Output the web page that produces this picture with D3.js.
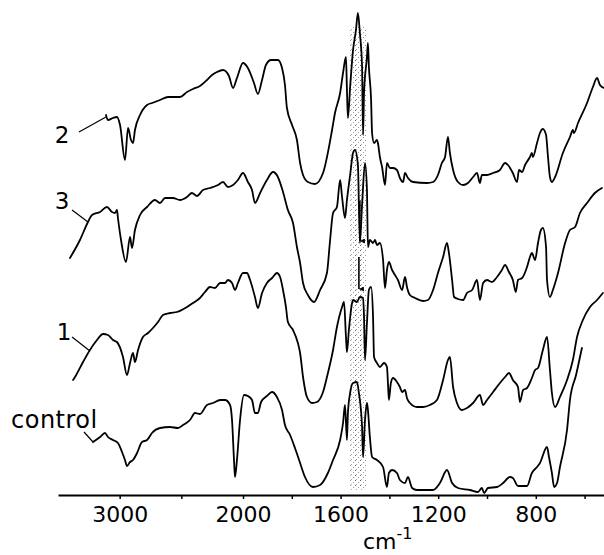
<!DOCTYPE html>
<html>
<head>
<meta charset="utf-8">
<script src="https://cdnjs.cloudflare.com/ajax/libs/d3/7.8.5/d3.min.js"></script>
<style>
  body { margin: 0; background: #fff; }
  svg { display: block; }
  .spec { fill: none; stroke: #000; stroke-width: 1.8; stroke-linejoin: round; stroke-linecap: round; }
  .lbl { font-family: "DejaVu Sans", sans-serif; fill: #000; }
</style>
</head>
<body>
<div id="chart"></div>
<script>
// IR spectra, wavenumber (cm-1) vs. transmittance (arbitrary, offset per trace)
var majorTicks = [3000, 2000, 1600, 1200, 800];
var minorTicks = [2500, 1800, 1400, 1000, 600];
var bandRange = [1560, 1497];

var trace2 = [[3111,190],[3095,187.5],[3054,188.5],[3022,189],[2997,185],[2957,167.5],[2932,183.5],[2908,177.5],[2892,176],[2876,182.5],[2835,190],[2778,195],[2738,196],[2673,197.5],[2608,199],[2511,199],[2454,201.5],[2405,203],[2349,204.5],[2292,207.5],[2251,210],[2211,211.5],[2162,212.5],[2114,209.5],[2081,203.5],[2049,208.5],[2000,216],[1980,213.5],[1955,206],[1939,200.5],[1922,207.5],[1906,215],[1885,217.5],[1857,217.5],[1840,213.5],[1828,205],[1820,193.5],[1799,185],[1779,177.5],[1766,166],[1754,160],[1734,156.5],[1705,155.5],[1672,161],[1635,182.5],[1623,191],[1602,201],[1590,211],[1578,219],[1574,202.5],[1570,188.5],[1561,204],[1549,222.5],[1537,232.5],[1529,241],[1521,231],[1512,214],[1508,180],[1504,201],[1492,219],[1488,226],[1484,214],[1475,197.5],[1471,181],[1463,176],[1451,177.5],[1447,176],[1439,169],[1430,164],[1418,155],[1410,166],[1398,163.5],[1385,163.5],[1369,162.5],[1357,158.5],[1344,156.5],[1336,161],[1324,158.5],[1303,156.5],[1246,156],[1221,156.5],[1201,160],[1185,166],[1172,169],[1160,179],[1152,171],[1139,162.5],[1119,156.5],[1098,155],[1078,156],[1057,159],[1041,161],[1029,156],[1021,160],[1000,160],[975,161],[947,162.5],[926,166],[914,165],[894,161],[877,156.5],[869,162.5],[856,161.5],[844,165],[824,169],[816,171],[812,169],[795,176],[783,181],[771,183],[758,180],[750,169],[742,159],[734,156.5],[721,159],[689,171],[660,179],[648,182.5],[644,181],[627,186],[590,196],[566,204],[549,208.5],[537,205],[521,203.5]];

var trace3 = [[3403,118.5],[3322,127.5],[3257,136.5],[3224,140],[3159,141.5],[3103,144],[3062,141.5],[3038,141],[3022,142.5],[3014,138.5],[2989,127.5],[2949,116.5],[2916,129],[2900,123.5],[2876,132.5],[2835,140],[2778,144],[2714,147.5],[2673,146],[2632,148.5],[2568,148.5],[2511,147.5],[2454,149],[2414,151],[2373,149.5],[2324,152.5],[2268,153.5],[2203,155],[2162,156.5],[2122,154],[2081,155],[2041,157.5],[2000,161],[1980,156.5],[1963,152.5],[1951,146],[1930,151],[1902,157.5],[1877,161.5],[1857,159],[1836,151.5],[1816,142.5],[1795,136],[1779,124],[1766,116],[1754,106],[1734,100],[1709,96.5],[1684,102.5],[1656,111],[1643,127.5],[1631,141],[1615,144],[1602,157.5],[1594,149],[1582,138.5],[1574,147.5],[1561,160],[1549,171],[1541,172.5],[1529,165],[1521,126],[1512,145],[1500,166],[1492,152.5],[1488,124],[1480,127.5],[1467,126],[1459,127.5],[1451,125],[1439,126],[1426,117.5],[1418,103.5],[1410,112.5],[1402,116.5],[1389,112.5],[1377,110],[1365,107.5],[1348,102.5],[1336,109],[1328,104],[1316,100],[1295,98.5],[1262,97],[1242,97.5],[1221,102.5],[1201,111],[1180,119],[1164,126],[1156,121],[1143,107.5],[1135,99],[1119,98],[1098,97.5],[1082,101],[1061,102.5],[1041,107.5],[1029,97.5],[1016,106],[1000,107.5],[980,106.5],[959,109],[939,112.5],[926,115],[910,111.5],[894,107.5],[882,101.5],[873,107.5],[856,108.5],[836,114],[824,119],[816,121],[803,117.5],[791,126],[779,132.5],[771,133.5],[758,124],[754,107.5],[742,99],[730,102.5],[709,111],[680,126],[660,132.5],[639,134],[619,141],[590,146],[558,151],[529,153.5]];

var trace1 = [[3378,57.5],[3362,59],[3297,66.5],[3241,72.5],[3184,77.5],[3135,80.5],[3095,80],[3054,77.5],[3022,76.5],[2973,69],[2941,60],[2916,66],[2892,71],[2876,66.5],[2851,72.5],[2811,79],[2770,81],[2730,83.5],[2689,86.5],[2649,90],[2592,91],[2535,91.5],[2454,94],[2405,96],[2349,98.5],[2308,101.5],[2268,104],[2227,103.5],[2186,106],[2146,106],[2122,107.5],[2089,106],[2065,102.5],[2041,106],[2000,111],[1984,111],[1971,107.5],[1951,99],[1939,93.5],[1922,101],[1902,106],[1881,108.5],[1861,111],[1848,109],[1836,102.5],[1824,94],[1816,86.5],[1795,82.5],[1775,76],[1766,71],[1754,59],[1738,49],[1717,46],[1697,46.5],[1672,51.5],[1656,59],[1631,72.5],[1615,84],[1594,94],[1586,96.5],[1578,79],[1574,71.5],[1566,82.5],[1553,96],[1549,97.5],[1533,96.5],[1521,99],[1508,98.5],[1504,89],[1500,67.5],[1492,86],[1484,102.5],[1475,104],[1467,89],[1463,69],[1451,66],[1439,64],[1422,66],[1410,64],[1406,56],[1402,47.5],[1394,56],[1385,58.5],[1369,56.5],[1357,54],[1348,51.5],[1336,52.5],[1328,48.5],[1316,46],[1287,44],[1262,44],[1234,45],[1205,47.5],[1180,57.5],[1160,67.5],[1152,69],[1139,54],[1123,46],[1103,42.5],[1082,43.5],[1057,46],[1029,50],[1016,45],[1000,47.5],[975,51.5],[947,56],[926,59],[910,61],[894,57.5],[873,54],[865,46.5],[852,52.5],[836,53.5],[816,58.5],[803,62.5],[791,63.5],[771,72.5],[754,79],[742,62.5],[734,51],[721,44],[701,49],[672,57.5],[648,67.5],[631,79],[607,87.5],[578,94],[549,97.5],[525,101]];

var control = [[3216,26.5],[3159,29],[3119,31],[3095,29],[3054,27.5],[3014,26],[2981,21.5],[2957,17.5],[2941,14.5],[2916,16.5],[2892,17.5],[2859,21],[2819,26.5],[2778,27.5],[2738,31],[2673,33.5],[2592,34],[2527,33.5],[2486,35],[2430,37.5],[2389,41],[2349,40.5],[2292,45],[2243,46],[2186,47.5],[2146,47.5],[2105,45],[2089,37.5],[2073,17.5],[2065,9],[2049,17.5],[2024,37.5],[1996,50],[1980,49.5],[1963,47.5],[1951,41],[1939,41],[1926,46.5],[1902,49.5],[1881,51.5],[1861,49],[1840,42.5],[1828,35],[1807,30],[1787,23.5],[1766,16],[1746,9],[1713,4],[1684,5],[1652,11],[1631,17.5],[1602,27.5],[1590,36],[1582,45],[1574,27.5],[1570,41],[1561,51],[1549,56],[1533,56.5],[1525,51],[1512,34],[1508,19],[1500,37.5],[1492,46],[1488,42.5],[1480,29],[1471,19],[1451,17.5],[1426,14],[1410,4],[1402,11],[1389,12.5],[1369,11],[1357,7.5],[1336,6],[1324,9],[1307,3.5],[1287,2.5],[1221,2.5],[1193,6],[1164,12.5],[1143,6],[1119,3.5],[1070,2.5],[1037,1.5],[1021,3.5],[1012,1],[996,3.5],[959,4],[934,6],[906,9],[894,8.5],[873,4.5],[836,4.5],[816,11],[795,14],[783,16],[754,24],[746,19],[734,11],[725,4],[713,6],[701,14],[672,32.5],[660,47.5],[635,60],[611,73.5]];

// trace labels: text, anchor wavenumber, value, leader line [wn1, v1, wn2, v2]
var labelNames = ["2", "3", "1", "control"];
var labelPos = [[3468, 176], [3468, 143], [3451, 77.5], [3881, 33.5]];
var labelAnchor = ["middle", "middle", "middle", "start"];
var leaders = [[3330, 181.5, 3111, 189], [3386, 142.5, 3257, 136.5], [3386, 79, 3241, 72], [3289, 31.5, 3216, 26.5]];
// arrows marking the 1520 band: [wn, vTop, vBottom]
var arrows = [[1521, 147, 127], [1525, 119, 103]];

var svgWidth = 604;
var svgHeight = 555;

var svg = d3.select("#chart")
  .append("svg")
  .attr("width", svgWidth)
  .attr("height", svgHeight);

// expanded scale below 2000 cm-1
var x = d3.scaleLinear()
  .domain([3500, 2000, 500])
  .range([58, 243, 609]);

var y = d3.scaleLinear()
  .domain([0, 240])
  .range([495, 15]);

var defs = svg.append("defs");
var pat = defs.append("pattern")
  .attr("id", "stipple")
  .attr("patternUnits", "userSpaceOnUse")
  .attr("width", 5)
  .attr("height", 5);
pat.append("rect").attr("x", 0).attr("y", 0).attr("width", 1).attr("height", 1).attr("fill", "#666");
pat.append("rect").attr("x", 3).attr("y", 2).attr("width", 1).attr("height", 1).attr("fill", "#999");
pat.append("rect").attr("x", 1).attr("y", 4).attr("width", 1).attr("height", 1).attr("fill", "#aaa");

defs.append("marker")
  .attr("id", "head")
  .attr("viewBox", "0 0 10 10")
  .attr("refX", 5).attr("refY", 10)
  .attr("markerWidth", 5).attr("markerHeight", 6)
  .attr("orient", "auto-start-reverse")
  .attr("markerUnits", "userSpaceOnUse")
  .append("path")
  .attr("d", "M0,0 L5,10 L10,0 Z")
  .attr("fill", "#000");

// shaded band
svg.append("rect")
  .attr("x", x(bandRange[0]))
  .attr("width", x(bandRange[1]) - x(bandRange[0]))
  .attr("y", y(234))
  .attr("height", y(2.5) - y(234))
  .attr("fill", "url(#stipple)");

// axis
var axis = d3.axisBottom(x)
  .tickValues(majorTicks.concat(minorTicks))
  .tickSize(4)
  .tickSizeOuter(0)
  .tickPadding(7)
  .tickFormat(d => majorTicks.indexOf(d) >= 0 ? d : "");

var gx = svg.append("g")
  .attr("transform", `translate(0, ${y(0)})`)
  .call(axis);
gx.select(".domain").attr("stroke-width", 2);
gx.selectAll(".tick line").attr("stroke-width", 1.5);
gx.selectAll("text")
  .attr("font-family", "DejaVu Sans, sans-serif")
  .attr("font-size", 22)
  .attr("fill", "#000");

var unit = svg.append("text")
  .attr("class", "lbl")
  .attr("x", 363)
  .attr("y", 549)
  .attr("font-size", 22)
  .text("cm");
unit.append("tspan")
  .attr("dy", -10)
  .attr("font-size", 16)
  .text("-1");

// spectra
var line = d3.line()
  .x(d => x(d[0]))
  .y(d => y(d[1]))
  .curve(d3.curveMonotoneX);

[trace2, trace3, trace1, control].forEach(function(t) {
  svg.append("path")
    .datum(t)
    .attr("class", "spec")
    .attr("d", line);
});

// leaders and labels
svg.selectAll(".leader")
  .data(leaders)
  .enter()
  .append("line")
  .attr("class", "leader")
  .attr("x1", d => x(d[0])).attr("y1", d => y(d[1]))
  .attr("x2", d => x(d[2])).attr("y2", d => y(d[3]))
  .attr("stroke", "#000")
  .attr("stroke-width", 1.2);

svg.selectAll(".name")
  .data(labelNames)
  .enter()
  .append("text")
  .attr("class", "lbl name")
  .attr("x", (d, i) => x(labelPos[i][0]))
  .attr("y", (d, i) => y(labelPos[i][1]))
  .attr("text-anchor", (d, i) => labelAnchor[i])
  .attr("font-size", (d, i) => i === 3 ? 24 : 23)
  .attr("letter-spacing", (d, i) => i === 3 ? 0.5 : 0)
  .text(d => d);

svg.selectAll(".arrow")
  .data(arrows)
  .enter()
  .append("line")
  .attr("class", "arrow")
  .attr("x1", d => x(d[0])).attr("y1", d => y(d[1]))
  .attr("x2", d => x(d[0])).attr("y2", d => y(d[2]))
  .attr("stroke", "#000")
  .attr("stroke-width", 1.6)
  .attr("marker-end", "url(#head)");
</script>
</body>
</html>
